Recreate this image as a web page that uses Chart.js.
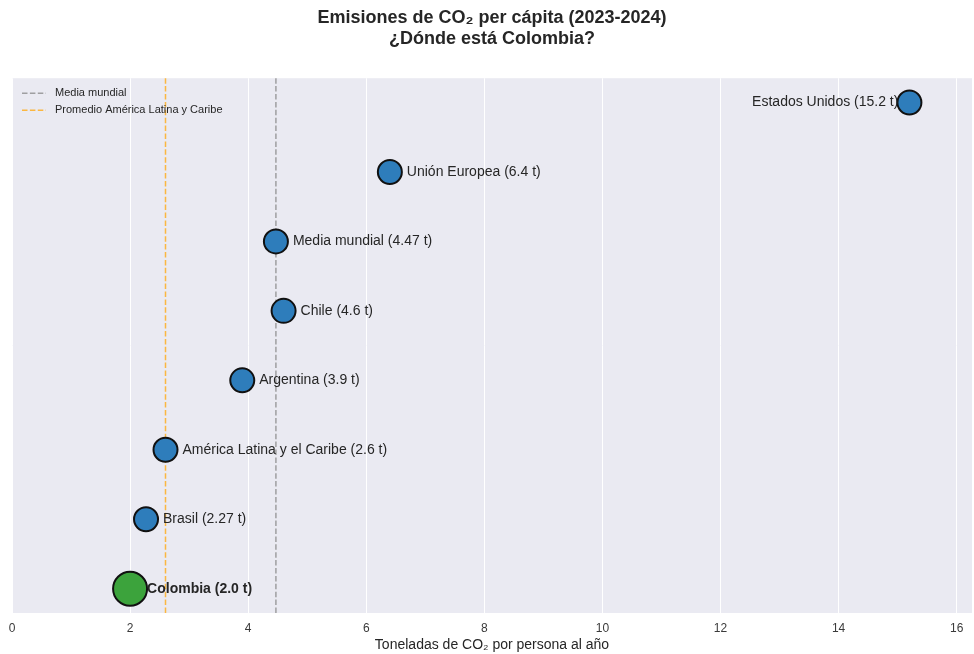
<!DOCTYPE html>
<html lang="es">
<head>
<meta charset="utf-8">
<title>Emisiones de CO₂ per cápita</title>
<script src="https://cdn.jsdelivr.net/npm/chart.js@4.4.1/dist/chart.umd.min.js"></script>
<style>
  html, body { margin: 0; padding: 0; background: #ffffff; }
  #wrap { width: 974px; height: 654px; }
</style>
</head>
<body>
<div id="wrap"><canvas id="grafico"></canvas></div>
<script>
// --- Datos ---
// de abajo hacia arriba (índice 0 = fila inferior)
const paises = ['Colombia', 'Brasil', 'América Latina y el Caribe', 'Argentina', 'Chile', 'Media mundial', 'Unión Europea', 'Estados Unidos'];
const emisiones = [2.0, 2.27, 2.6, 3.9, 4.6, 4.47, 6.4, 15.2];
const mediaMundial = 4.47;
const promedioALC = 2.6;
const xTicks = [0, 2, 4, 6, 8, 10, 12, 14, 16];

const destacado = 'Colombia';
const textoColor = '#262626';
const fuente = "'Liberation Sans', Arial, sans-serif";

function fmt(v) {
    return Number.isInteger(v) ? v.toFixed(1) : String(v);
}

const puntos = paises.map((p, i) => ({ x: emisiones[i], y: i }));

// Fondo gris del área del gráfico
const fondoPlugin = {
    id: 'fondo',
    beforeDraw(chart) {
        const { ctx, chartArea: a } = chart;
        ctx.save();
        ctx.fillStyle = '#eaeaf2';
        ctx.fillRect(a.left, a.top, a.right - a.left, a.bottom - a.top);
        ctx.restore();
    }
};

// Líneas de referencia verticales (media mundial y promedio regional)
const lineasRef = [
    { valor: mediaMundial, color: 'rgba(140,140,140,0.8)', texto: 'Media mundial' },
    { valor: promedioALC, color: 'rgba(255,170,20,0.8)', texto: 'Promedio América Latina y Caribe' }
];

const referenciaPlugin = {
    id: 'referencias',
    beforeDatasetsDraw(chart) {
        const { ctx, chartArea: a, scales } = chart;
        ctx.save();
        ctx.lineWidth = 1.5;
        ctx.setLineDash([5.5, 2.4]);
        lineasRef.forEach(l => {
            const x = scales.x.getPixelForValue(l.valor);
            ctx.strokeStyle = l.color;
            ctx.beginPath();
            ctx.moveTo(x, a.top);
            ctx.lineTo(x, a.bottom);
            ctx.stroke();
        });
        ctx.restore();
    },
    afterDraw(chart) {
        // leyenda dentro del área, esquina superior izquierda
        const { ctx, chartArea: a } = chart;
        ctx.save();
        ctx.font = '11px ' + fuente;
        ctx.textBaseline = 'middle';
        ctx.lineWidth = 1.5;
        lineasRef.forEach((l, i) => {
            const y = a.top + 15 + i * 17;
            ctx.strokeStyle = l.color;
            ctx.setLineDash([5.5, 2.4]);
            ctx.beginPath();
            ctx.moveTo(a.left + 10, y);
            ctx.lineTo(a.left + 34, y);
            ctx.stroke();
            ctx.setLineDash([]);
            ctx.fillStyle = textoColor;
            ctx.fillText(l.texto, a.left + 43, y);
        });
        ctx.restore();
    }
};

// Etiquetas junto a cada punto
const etiquetasPlugin = {
    id: 'etiquetas',
    afterDatasetsDraw(chart) {
        const { ctx, scales } = chart;
        ctx.save();
        ctx.textBaseline = 'middle';
        ctx.fillStyle = textoColor;
        paises.forEach((p, i) => {
            const x = scales.x.getPixelForValue(emisiones[i]);
            const y = scales.y.getPixelForValue(i);
            const txt = `${p} (${fmt(emisiones[i])} t)`;
            ctx.font = (p === destacado ? 'bold ' : '') + '14px ' + fuente;
            if (emisiones[i] > 12) {
                ctx.textAlign = 'right';
                ctx.fillText(txt, x - 11, y);
            } else {
                ctx.textAlign = 'left';
                ctx.fillText(txt, x + 17, y);
            }
        });
        ctx.restore();
    }
};

new Chart(document.getElementById('grafico'), {
    type: 'scatter',
    data: {
        datasets: [{
            data: puntos,
            pointRadius: ctx => paises[ctx.dataIndex] === destacado ? 17 : 12,
            pointHoverRadius: ctx => paises[ctx.dataIndex] === destacado ? 17 : 12,
            pointBackgroundColor: ctx => paises[ctx.dataIndex] === destacado ? '#3ca33c' : '#2e7dbb',
            pointBorderColor: '#111111',
            pointBorderWidth: 2
        }]
    },
    options: {
        responsive: true,
        maintainAspectRatio: false,
        animation: false,
        layout: { autoPadding: false, padding: { left: 12, right: 2, top: 0, bottom: 0 } },
        plugins: {
            legend: { display: false },
            tooltip: { enabled: false },
            title: {
                display: true,
                text: ['Emisiones de CO₂ per cápita (2023-2024)', '¿Dónde está Colombia?'],
                color: textoColor,
                font: { family: fuente, size: 18, weight: 'bold' },
                padding: { top: 7, bottom: 28 }
            }
        },
        scales: {
            x: {
                type: 'linear',
                min: 0,
                max: 16.26,
                afterBuildTicks: axis => { axis.ticks = xTicks.map(v => ({ value: v })); },
                afterFit: axis => {
                    axis.paddingLeft = 0;
                    axis.paddingRight = 0;
                    axis.height = 41;
                },
                grid: { color: '#ffffff', lineWidth: 1, drawTicks: false },
                border: { display: false },
                ticks: {
                    color: '#3a3a3a',
                    font: { family: fuente, size: 12 },
                    padding: 8,
                    maxRotation: 0
                },
                title: {
                    display: true,
                    text: 'Toneladas de CO₂ por persona al año',
                    color: textoColor,
                    font: { family: fuente, size: 14 },
                    padding: { top: 2, bottom: 0 }
                }
            },
            y: {
                type: 'linear',
                min: -0.35,
                max: 7.35,
                display: false
            }
        }
    },
    plugins: [fondoPlugin, referenciaPlugin, etiquetasPlugin]
});
</script>
</body>
</html>
